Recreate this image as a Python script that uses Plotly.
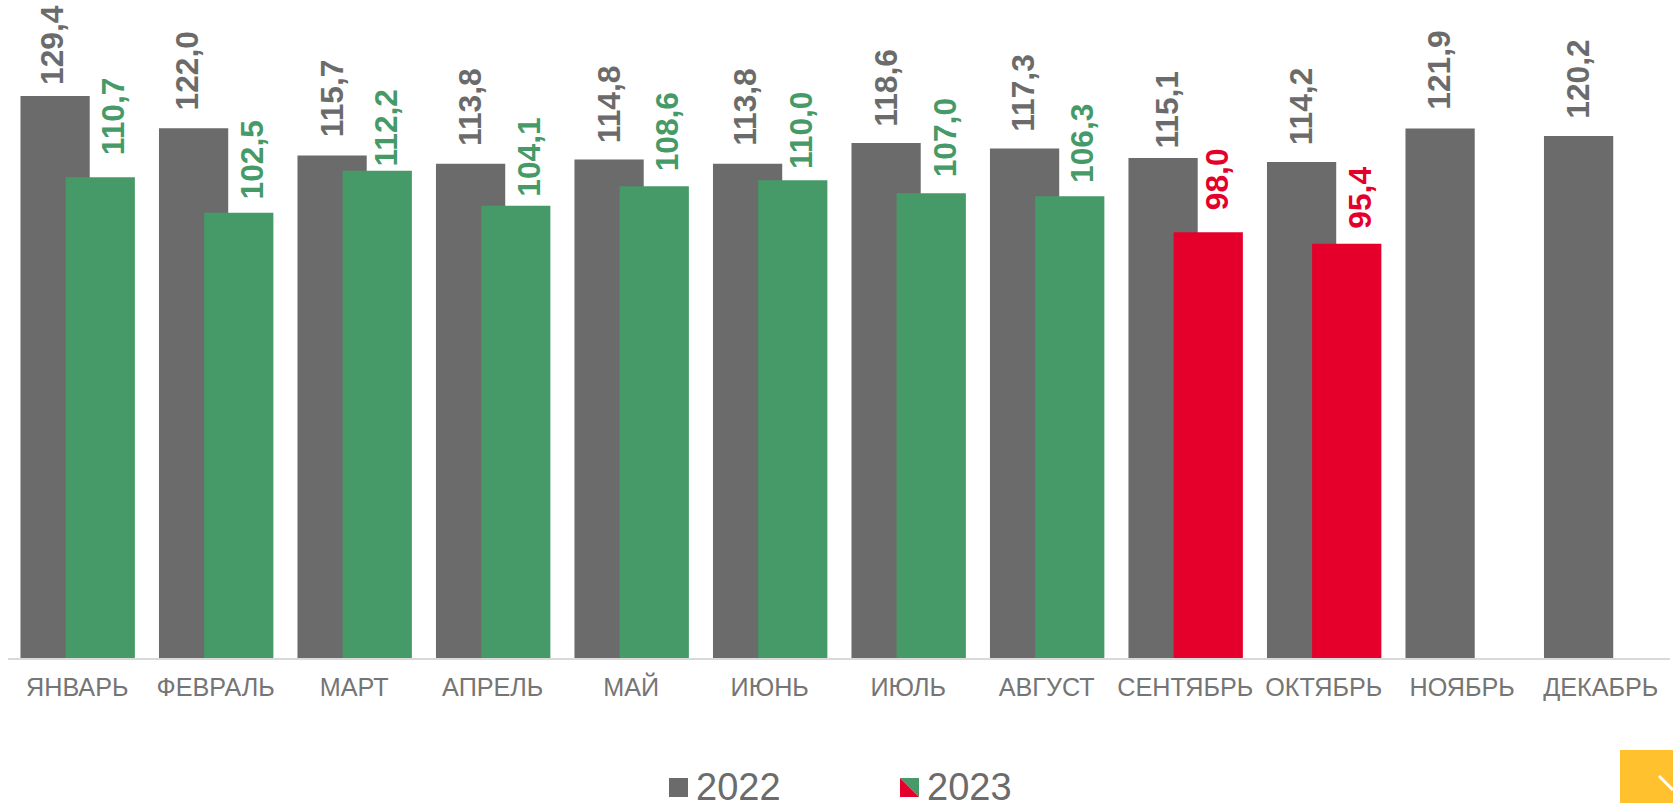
import plotly.graph_objects as go

months = ["ЯНВАРЬ", "ФЕВРАЛЬ", "МАРТ", "АПРЕЛЬ", "МАЙ", "ИЮНЬ", "ИЮЛЬ", "АВГУСТ",
          "СЕНТЯБРЬ", "ОКТЯБРЬ", "НОЯБРЬ", "ДЕКАБРЬ"]
values_2022 = [129.4, 122.0, 115.7, 113.8, 114.8, 113.8, 118.6, 117.3, 115.1, 114.2, 121.9, 120.2]
values_2023 = [110.7, 102.5, 112.2, 104.1, 108.6, 110.0, 107.0, 106.3, 98.0, 95.4]

GRAY = "#6B6B6B"
GREEN = "#459A67"
RED = "#E4002B"
colors_2023 = [GREEN] * 8 + [RED] * 2

# hand placement of the value labels, as in the reference (pixels)
nudge_x_2022 = [-2, -5, 1, 1, 1, -1, 0, 0, 5, 0, 0, 0]
nudge_y_2022 = [0, 6, 7, 6, 5, 6, 5, 5, -1, 5, 7, 6]
nudge_x_2023 = [-1, -1, -5, -1, -1, -6, 0, -1, -5, -1]
nudge_y_2023 = [2, -6, -15, -10, -5, -8, -4, -6, 2, -5]

W, H = 1673, 803
L, R, T, B = 8, 1670, 0, 658
BAR_W = 0.5
OFF_22, OFF_23 = -0.41, -0.084
LABEL_SIZE = 31.7


def px(x):
    return (x - L) / (R - L)


def py(y):
    return (B - y) / (B - T)


def fmt(v):
    return f"{v:.1f}".replace(".", ",")


idx = list(range(len(months)))
fig = go.Figure()
fig.add_bar(name="2022", x=idx, y=values_2022, width=BAR_W, offset=OFF_22,
            marker=dict(color=GRAY, line_width=0))
fig.add_bar(name="2023", x=idx[:len(values_2023)], y=values_2023, width=BAR_W, offset=OFF_23,
            marker=dict(color=colors_2023, line_width=0))

for i, v in enumerate(values_2022):
    fig.add_annotation(x=i + OFF_22 + BAR_W / 2, y=v, xref="x", yref="y", text=f"<b>{fmt(v)}</b>",
                       textangle=-90, showarrow=False, yanchor="bottom", xanchor="center",
                       yshift=9 + 1.067 * nudge_y_2022[i], xshift=-1 + 1.067 * nudge_x_2022[i],
                       font=dict(size=LABEL_SIZE, color=GRAY))
for i, v in enumerate(values_2023):
    fig.add_annotation(x=i + OFF_23 + BAR_W / 2, y=v, xref="x", yref="y", text=f"<b>{fmt(v)}</b>",
                       textangle=-90, showarrow=False, yanchor="bottom", xanchor="center",
                       yshift=18 + 1.067 * nudge_y_2023[i], xshift=14 + 1.067 * nudge_x_2023[i],
                       font=dict(size=LABEL_SIZE, color=colors_2023[i]))


def rect(x0, y0, x1, y1, color):
    return dict(type="rect", xref="paper", yref="paper", x0=px(x0), x1=px(x1), y0=py(y0), y1=py(y1),
                fillcolor=color, line_width=0, layer="above")


def tri(pts, color):
    path = "M " + " L ".join(f"{px(a)} {py(b)}" for a, b in pts) + " Z"
    return dict(type="path", xref="paper", yref="paper", path=path, fillcolor=color, line_width=0)


shapes = [
    rect(669, 778, 688, 797, GRAY),
    tri([(900, 778), (919, 778), (919, 797)], GREEN),
    tri([(900, 778), (919, 797), (900, 797)], RED),
    rect(1620, 750, 1673, 803, "#FFC12D"),
    dict(type="line", xref="paper", yref="paper", x0=px(1659), y0=py(776), x1=px(1673), y1=py(790),
         line=dict(color="white", width=3)),
]
for label, x in (("2022", 694), ("2023", 925)):
    fig.add_annotation(x=px(x), y=py(787), xref="paper", yref="paper", text=label, showarrow=False,
                       xanchor="left", yanchor="middle", font=dict(size=38, color=GRAY))

fig.update_layout(
    width=W, height=H, autosize=False, showlegend=False, barmode="overlay",
    margin=dict(l=L, r=W - R, t=T, b=H - B, pad=0),
    paper_bgcolor="white", plot_bgcolor="white",
    font=dict(family="Liberation Sans, Arial, sans-serif"),
    shapes=shapes,
    xaxis=dict(range=[-0.5, 11.5], tickmode="array", tickvals=idx, ticktext=months, ticks="",
               showgrid=False, zeroline=False, showline=True, linecolor="#D9D9D9", linewidth=2,
               ticklabelstandoff=6, tickfont=dict(size=25.2, color="#757575")),
    yaxis=dict(range=[0, 151.5], visible=False),
)
fig.write_html("out.html", config={"displayModeBar": False},
               post_script="document.body.style.margin='0';")
